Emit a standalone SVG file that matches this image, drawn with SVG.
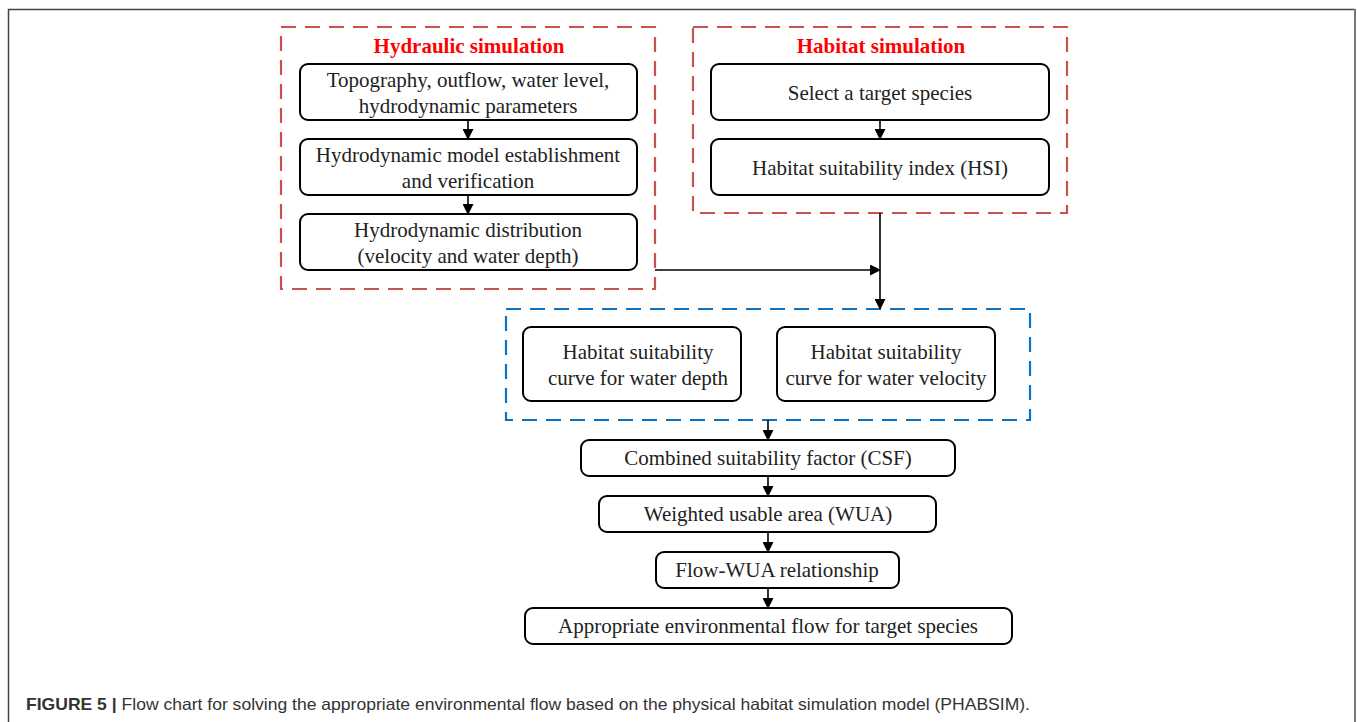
<svg xmlns="http://www.w3.org/2000/svg" width="1357" height="722" viewBox="0 0 1357 722">
<defs>
<style>
.box{fill:#fff;stroke:#000;stroke-width:2}
.t{font-family:"Liberation Serif","Times New Roman",serif;font-size:21px;fill:#222;text-anchor:middle}
.title{font-family:"Liberation Serif","Times New Roman",serif;font-size:21px;font-weight:bold;fill:#ff0000;text-anchor:middle}
.red{fill:none;stroke:#c9524a;stroke-width:2.2;stroke-dasharray:15 9}
.blue{fill:none;stroke:#0b72c4;stroke-width:2.2;stroke-dasharray:15 9}
.c{fill:none;stroke:#000;stroke-width:1.6;marker-end:url(#ah)}
.cap{font-family:"Liberation Sans",Arial,sans-serif;font-size:16.5px;fill:#333}
</style>
<marker id="ah" markerWidth="11" markerHeight="11" refX="10" refY="5.5" orient="auto" markerUnits="userSpaceOnUse">
<path d="M0,0 L11,5.5 L0,11 Z" fill="#000"/>
</marker>
</defs>
<rect width="1357" height="722" fill="#fff"/>
<path d="M8.5,730 V9.5 H1355" fill="none" stroke="#444" stroke-width="1.5"/>
<line x1="1355" y1="9" x2="1355" y2="722" stroke="#777" stroke-width="2"/>

<g id="hydraulic-group">
<rect class="red" x="281" y="27" width="374" height="262"/>
<text class="title" x="469" y="53">Hydraulic simulation</text>
</g>
<g id="habitat-group">
<rect class="red" x="693" y="27" width="374" height="186"/>
<text class="title" x="881" y="53">Habitat simulation</text>
</g>
<g id="curves-group">
<rect class="blue" x="506" y="309" width="524" height="111"/>
</g>

<g id="n-topography">
<rect class="box" x="300" y="64" width="337" height="56" rx="8"/>
<text class="t" x="468" y="87">Topography, outflow, water level,</text>
<text class="t" x="468" y="113">hydrodynamic parameters</text>
</g>
<g id="n-model">
<rect class="box" x="300" y="139" width="337" height="56" rx="8"/>
<text class="t" x="468" y="162">Hydrodynamic model establishment</text>
<text class="t" x="468" y="188">and verification</text>
</g>
<g id="n-distribution">
<rect class="box" x="300" y="214" width="337" height="56" rx="8"/>
<text class="t" x="468" y="237">Hydrodynamic distribution</text>
<text class="t" x="468" y="263">(velocity and water depth)</text>
</g>
<g id="n-species">
<rect class="box" x="711" y="64" width="338" height="56" rx="8"/>
<text class="t" x="880" y="100">Select a target species</text>
</g>
<g id="n-hsi">
<rect class="box" x="711" y="139" width="338" height="56" rx="8"/>
<text class="t" x="880" y="175">Habitat suitability index (HSI)</text>
</g>
<g id="n-depth">
<rect class="box" x="523" y="327" width="218" height="74" rx="8"/>
<text class="t" x="638" y="359">Habitat suitability</text>
<text class="t" x="638" y="385">curve for water depth</text>
</g>
<g id="n-velocity">
<rect class="box" x="777" y="327" width="218" height="74" rx="8"/>
<text class="t" x="886" y="359">Habitat suitability</text>
<text class="t" x="886" y="385">curve for water velocity</text>
</g>
<g id="n-csf">
<rect class="box" x="581" y="440" width="374" height="36" rx="8"/>
<text class="t" x="768" y="465">Combined suitability factor (CSF)</text>
</g>
<g id="n-wua">
<rect class="box" x="599" y="496" width="337" height="36" rx="8"/>
<text class="t" x="768" y="521">Weighted usable area (WUA)</text>
</g>
<g id="n-flowwua">
<rect class="box" x="656" y="552" width="243" height="36" rx="8"/>
<text class="t" x="777" y="577">Flow-WUA relationship</text>
</g>
<g id="n-eflow">
<rect class="box" x="525" y="608" width="487" height="36" rx="8"/>
<text class="t" x="768" y="633">Appropriate environmental flow for target species</text>
</g>

<g id="connectors">
<line class="c" x1="468" y1="120" x2="468" y2="139"/>
<line class="c" x1="468" y1="195" x2="468" y2="214"/>
<line class="c" x1="880" y1="120" x2="880" y2="139"/>
<line class="c" x1="880" y1="213" x2="880" y2="309"/>
<line class="c" x1="655" y1="270" x2="880" y2="270"/>
<line class="c" x1="768" y1="420" x2="768" y2="440"/>
<line class="c" x1="768" y1="476" x2="768" y2="496"/>
<line class="c" x1="768" y1="532" x2="768" y2="552"/>
<line class="c" x1="768" y1="588" x2="768" y2="608"/>
</g>

<text class="cap" x="26" y="710" textLength="1004" lengthAdjust="spacingAndGlyphs"><tspan font-weight="bold" fill="#333">FIGURE 5 |</tspan> Flow chart for solving the appropriate environmental flow based on the physical habitat simulation model (PHABSIM).</text>
</svg>
